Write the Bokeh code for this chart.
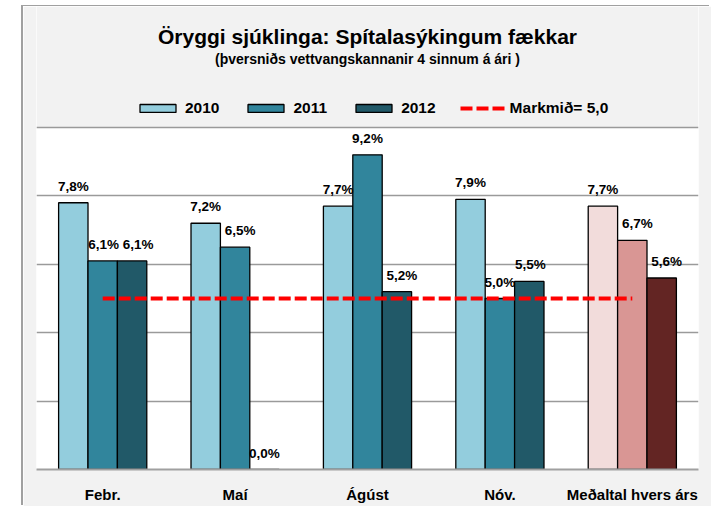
from bokeh.plotting import figure
from bokeh.models import (ColumnDataSource, FactorRange, Range1d, Legend, LegendItem,
                          LabelSet, Label, FixedTicker, BoxAnnotation)
from bokeh.transform import dodge
from bokeh.core.properties import value
from bokeh.embed import file_html
from bokeh.resources import INLINE

# ---- data ----
months = ["Febr.", "Maí", "Ágúst", "Nóv.", "Meðaltal hvers árs"]
y2010 = [7.8, 7.2, 7.7, 7.9, 7.7]
y2011 = [6.1, 6.5, 9.2, 5.0, 6.7]
y2012 = [6.1, 0.0, 5.2, 5.5, 5.6]
target = [5.0, 5.0, 5.0, 5.0, 5.0]
series_names = ["2010", "2011", "2012"]
target_name = "Markmið= 5,0"
title_text = "Öryggi sjúklinga: Spítalasýkingum fækkar"
subtitle_text = "(þversniðs vettvangskannanir 4 sinnum á ári )"
grid_ticks = [0, 2, 4, 6, 8, 10]

# ---- styles ----
FONT = "Liberation Sans"
BG = "#F2F2F2"
year_colors = ["#93CDDD", "#31859C", "#215968"]
avg_colors = ["#F2DCDB", "#D99694", "#632523"]
label_nudge = [[0, 0, 0, 0, 0], [1, 5, 0, 0, 5], [6, 0, 5, 1, 5]]
bar_w = 0.222
offsets = [-bar_w, 0.0, bar_w]
axis_top = 10
y_top = axis_top * (469 - 6) / (469 - 127)   # extra room above the plot area for titles

p = figure(x_range=FactorRange(factors=months), y_range=Range1d(0, y_top),
           width=688, height=500, output_backend="svg", toolbar_location=None, tools="",
           min_border_left=13, min_border_right=13, min_border_top=0, min_border_bottom=37,
           background_fill_color="white", border_fill_color=BG)
p.margin = (6, 0, 0, 23)
p.styles = {"box-shadow": "-2px -1px 0 0 #A0A0A0"}
p.outline_line_color = None

# grey band above the plot area
p.add_layout(BoxAnnotation(bottom=axis_top, fill_color=BG, fill_alpha=1,
                           line_color=None, level="image"))

p.yaxis.visible = False
p.xgrid.grid_line_color = None
p.ygrid.ticker = FixedTicker(ticks=grid_ticks)
p.ygrid.grid_line_color = "#9A9A9A"
p.ygrid.grid_line_width = 1.3

p.xaxis.axis_line_color = "#A0A0A0"
p.xaxis.axis_line_width = 2
p.xaxis.major_tick_line_color = None
p.xaxis.minor_tick_line_color = None
p.xaxis.major_label_standoff = 10
p.xaxis.major_label_text_font = FONT
p.xaxis.major_label_text_font_size = "15px"
p.xaxis.major_label_text_font_style = "bold"
p.xaxis.major_label_text_color = "black"

bar_renderers = []
for i, vals in enumerate([y2010, y2011, y2012]):
    colors = [year_colors[i]] * (len(months) - 1) + [avg_colors[i]]
    src = ColumnDataSource(dict(
        cat=months, val=vals, color=colors,
        label=[f"{v:.1f}%".replace(".", ",") for v in vals],
        dx=label_nudge[i]))
    r = p.vbar(x=dodge("cat", offsets[i], range=p.x_range), top="val", width=bar_w,
               source=src, fill_color="color", line_color="black", line_width=1.3)
    bar_renderers.append(r)
    labels = LabelSet(x=dodge("cat", offsets[i], range=p.x_range), y="val", text="label",
                      source=src, x_offset="dx", y_offset=12, text_align="center",
                      text_baseline="alphabetic", text_font=value(FONT),
                      text_font_size=value("13.5px"), text_font_style="bold",
                      text_color="black")
    p.add_layout(labels)

tsrc = ColumnDataSource(dict(cat=months, val=target))
line_r = p.line(x="cat", y="val", source=tsrc, line_color="#FF0000", line_width=4,
                line_dash="12 4")

items = [LegendItem(label=series_names[i], renderers=[bar_renderers[i]], index=0)
         for i in range(3)]
items.append(LegendItem(label=target_name, renderers=[line_r]))
legend = Legend(items=items, orientation="horizontal", location=(99, 352),
                glyph_width=45, glyph_height=10, label_height=10, label_standoff=5,
                spacing=24, padding=0, margin=0, border_line_color=None,
                background_fill_alpha=0, label_text_font=FONT,
                label_text_font_size="15.5px", label_text_font_style="bold",
                label_text_color="black")
p.add_layout(legend, "center")

p.add_layout(Label(x=2.5, y=12.66, text=title_text, text_align="center",
                   text_baseline="alphabetic", text_font=FONT, text_font_size="21px",
                   text_font_style="bold", text_color="black"))
p.add_layout(Label(x=2.5, y=11.99, text=subtitle_text, text_align="center",
                   text_baseline="alphabetic", text_font=FONT, text_font_size="14px",
                   text_font_style="bold", text_color="black"))

open("out.html", "w").write(file_html(p, INLINE))
